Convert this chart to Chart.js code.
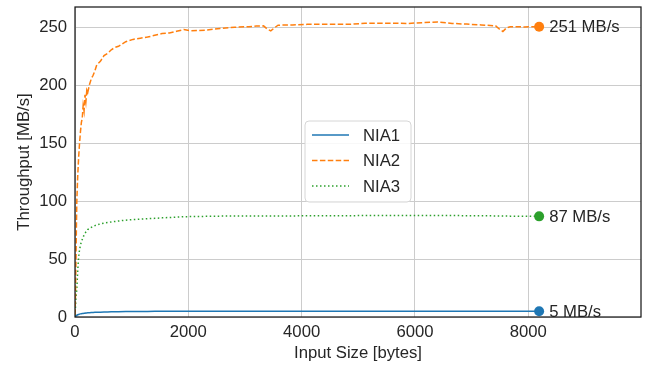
<!DOCTYPE html>
<html>
<head>
<meta charset="utf-8">
<script src="https://cdn.jsdelivr.net/npm/chart.js@4"></script>
<style>
  html, body { margin: 0; padding: 0; background: #fff; }
</style>
</head>
<body>
<canvas id="chart" width="647" height="366"></canvas>
<script>
const sizes = [1, 8, 16, 24, 32, 48, 64, 80, 96, 112, 128, 144, 160, 176, 192, 208, 224, 256, 288, 320, 352, 384, 448, 512, 576, 640, 704, 768, 896, 1024, 1152, 1280, 1408, 1536, 1664, 1792, 1920, 2048, 2304, 2560, 2816, 3072, 3200, 3328, 3392, 3456, 3520, 3584, 3840, 4096, 4352, 4608, 4864, 5120, 5376, 5632, 5888, 6144, 6400, 6656, 6912, 7168, 7424, 7488, 7552, 7616, 7680, 7936, 8192];

const nia1 = [0.1, 0.5, 0.9, 1.2, 1.5, 1.9, 2.2, 2.5, 2.7, 2.9, 3.0, 3.1, 3.2, 3.3, 3.4, 3.5, 3.6, 3.7, 3.8, 3.9, 4.0, 4.1, 4.2, 4.3, 4.4, 4.5, 4.55, 4.6, 4.7, 4.75, 4.8, 4.85, 4.9, 4.9, 4.92, 4.94, 4.95, 4.95, 4.97, 4.98, 5, 5, 5, 5, 5, 5, 5, 5, 5, 5, 5, 5, 5, 5, 5, 5, 5, 5, 5, 5, 5, 5, 5, 5, 5, 5, 5, 5, 5];

const nia2 = [2, 18, 45, 75, 100, 122, 138, 150, 160, 168, 172, 183, 178, 192, 186, 196, 194, 201, 206, 209, 213, 218, 221, 226, 228, 231, 233, 234, 238, 240, 241, 242, 243.5, 245, 245.5, 247, 248.5, 247.5, 248, 249.5, 250.5, 251, 251.5, 251.7, 249, 247.4, 250, 252.3, 252.5, 253, 253, 253, 253, 254, 254, 254, 253.8, 254.5, 255, 253.8, 253.2, 252.5, 251.7, 249, 246.8, 250, 251, 250.8, 251];

const nia3 = [1, 8, 16, 20, 24, 40, 52, 58, 62, 65, 67, 69, 71, 72, 73.5, 74.5, 75.5, 76.5, 77.5, 78.3, 79, 79.6, 80.5, 81.2, 81.7, 82.2, 82.6, 83, 83.7, 84.2, 84.6, 85, 85.3, 85.7, 86, 86.3, 86.7, 86.8, 87, 87.2, 87.3, 87.4, 87.4, 87.4, 87.4, 87.4, 87.4, 87.4, 87.4, 87.5, 87.5, 87.5, 87.6, 87.7, 87.8, 87.8, 87.8, 87.8, 87.8, 87.7, 87.6, 87.5, 87.4, 87.4, 87.3, 87.3, 87.2, 87.1, 87];

const seriesNames = ['NIA1', 'NIA2', 'NIA3'];
const seriesColors = ['#1f77b4', '#ff7f0e', '#2ca02c'];
const seriesDash = [[], [5.5, 2.4], [1.5, 2.5]];
const endLabels = ['5 MB/s', '251 MB/s', '87 MB/s'];
const xTicks = [0, 2000, 4000, 6000, 8000];
const yTicks = [0, 50, 100, 150, 200, 250];

const FONT = "'Liberation Sans', Arial, sans-serif";
const TEXT = '#262626';

const lastIdx = sizes.length - 1;
const makeSet = (vals, i) => ({
  label: seriesNames[i],
  data: sizes.map((s, k) => ({ x: s, y: vals[k] })),
  borderColor: seriesColors[i],
  backgroundColor: seriesColors[i],
  borderWidth: 1.5,
  borderDash: seriesDash[i],
  pointRadius: sizes.map((s, k) => k === lastIdx ? 5 : 0),
  pointBorderWidth: 0,
  tension: 0,
  fill: false
});

const overlay = {
  id: 'overlay',
  afterDraw(chart) {
    const ctx = chart.ctx;
    const ca = chart.chartArea;
    const xs = chart.scales.x, ys = chart.scales.y;

    // end labels
    ctx.save();
    ctx.font = '16.7px ' + FONT;
    ctx.fillStyle = TEXT;
    ctx.textBaseline = 'middle';
    ctx.textAlign = 'left';
    chart.data.datasets.forEach((ds, i) => {
      const p = ds.data[lastIdx];
      ctx.fillText(endLabels[i], xs.getPixelForValue(p.x) + 10, ys.getPixelForValue(p.y) + 1);
    });

    // legend
    const lx = ca.left + 230, ly = ca.top + 114, lw = 106, lh = 81;
    ctx.beginPath();
    ctx.roundRect(lx, ly, lw, lh, 4);
    ctx.fillStyle = 'rgba(255,255,255,0.85)';
    ctx.fill();
    ctx.strokeStyle = '#d6d6d6';
    ctx.lineWidth = 1;
    ctx.stroke();
    chart.data.datasets.forEach((ds, i) => {
      const y = ly + 14 + i * 25.5;
      ctx.beginPath();
      ctx.setLineDash(ds.borderDash);
      ctx.strokeStyle = ds.borderColor;
      ctx.lineWidth = 1.5;
      ctx.moveTo(lx + 7, y);
      ctx.lineTo(lx + 44, y);
      ctx.stroke();
      ctx.setLineDash([]);
      ctx.fillStyle = TEXT;
      ctx.fillText(ds.label, lx + 58, y + 1);
    });

    // frame
    ctx.strokeStyle = '#1a1a1a';
    ctx.lineWidth = 1.25;
    ctx.strokeRect(ca.left, ca.top, ca.right - ca.left, ca.bottom - ca.top);
    ctx.restore();
  }
};

new Chart(document.getElementById('chart'), {
  type: 'line',
  data: { datasets: [makeSet(nia1, 0), makeSet(nia2, 1), makeSet(nia3, 2)] },
  options: {
    responsive: false,
    animation: false,
    layout: { padding: { top: 7, right: 6, left: 0, bottom: 0 } },
    plugins: { legend: { display: false }, tooltip: { enabled: false } },
    scales: {
      x: {
        type: 'linear',
        min: 0,
        max: 9990,
        afterFit: s => { s.height = 49; s.paddingLeft = 0; s.paddingRight = 0; },
        afterBuildTicks: s => { s.ticks = xTicks.map(v => ({ value: v })); },
        ticks: { font: { family: FONT, size: 16.7 }, color: TEXT, padding: 5, maxRotation: 0, callback: v => String(v) },
        grid: { color: '#cccccc', lineWidth: 1, drawTicks: false },
        border: { display: false },
        title: { display: true, text: 'Input Size [bytes]', font: { family: FONT, size: 16.7 }, color: TEXT, padding: { top: 0, bottom: 3 } }
      },
      y: {
        type: 'linear',
        min: 0,
        max: 268,
        afterFit: s => { s.width = 75; s.paddingTop = 0; s.paddingBottom = 0; },
        afterBuildTicks: s => { s.ticks = yTicks.map(v => ({ value: v })); },
        ticks: { font: { family: FONT, size: 16.7 }, color: TEXT, padding: 8, callback: v => String(v) },
        grid: { color: '#cccccc', lineWidth: 1, drawTicks: false },
        border: { display: false },
        title: { display: true, text: 'Throughput [MB/s]', font: { family: FONT, size: 16.7 }, color: TEXT, padding: { top: 14, bottom: 0 } }
      }
    }
  },
  plugins: [overlay]
});
</script>
</body>
</html>
